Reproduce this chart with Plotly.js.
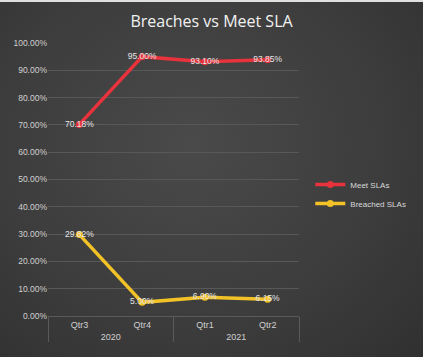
<!DOCTYPE html>
<html><head><meta charset="utf-8">
<script src="https://cdn.plot.ly/plotly-3.0.1.min.js"></script>
<style>
html,body{margin:0;padding:0;}
#wrap{width:423px;height:357px;background:radial-gradient(ellipse at 45% 40%, #4a4a4a 0%, #3c3c3c 60%, #303030 100%);box-sizing:border-box;border-top:2px solid #e0e0e0;}
#chart{width:423px;height:355px;}
</style></head>
<body><div id="wrap"><div id="chart"></div></div>
<script>
const years = ["2020","2020","2021","2021"];
const quarters = ["Qtr3","Qtr4","Qtr1","Qtr2"];
const meetSLA = [70.18, 95.00, 93.10, 93.85];
const breachedSLA = [29.82, 5.00, 6.90, 6.15];

const fmt = v => v.toFixed(2) + "%";
const traces = [
  {name:"Meet SLAs", x:[years,quarters], y:meetSLA, type:"scatter", mode:"lines+markers+text",
   line:{color:"#e8323c", width:3.5}, marker:{color:"#e8323c", size:7},
   text:meetSLA.map(fmt), textposition:"middle center",
   textfont:{family:"Liberation Sans, Arial", size:8.5, color:"#e6e6e6"}, cliponaxis:false},
  {name:"Breached SLAs", x:[years,quarters], y:breachedSLA, type:"scatter", mode:"lines+markers+text",
   line:{color:"#f2c227", width:3.5}, marker:{color:"#f2c227", size:7},
   text:breachedSLA.map(fmt), textposition:"middle center",
   textfont:{family:"Liberation Sans, Arial", size:8.5, color:"#e6e6e6"}, cliponaxis:false}
];
const layout = {
  width:423, height:355,
  paper_bgcolor:"rgba(0,0,0,0)", plot_bgcolor:"rgba(0,0,0,0)",
  margin:{l:48, r:103, t:41, b:41},
  title:{text:"Breaches vs Meet SLA", x:0.5, xanchor:"center", y:0.945, yanchor:"middle",
         font:{family:"Open Sans, Liberation Sans", size:16, color:"#f2f2f2"}},
  xaxis:{type:"multicategory", range:[-0.5,3.5], showgrid:false, zeroline:false,
         showdividers:true, dividercolor:"#5a5a5a", dividerwidth:1,
         showline:true, linecolor:"#5a5a5a", mirror:false,
         tickfont:{family:"Liberation Sans, Arial", size:9, color:"#d0d0d0"}},
  yaxis:{range:[0,100], dtick:10, tickformat:".2f", ticksuffix:"%",
         gridcolor:"#585858", gridwidth:1, zeroline:false, showline:false,
         tickfont:{family:"Liberation Sans, Arial", size:8.5, color:"#d0d0d0"}},
  legend:{x:1.045, y:0.447, xanchor:"left", yanchor:"middle", bgcolor:"rgba(0,0,0,0)",
          font:{family:"Liberation Sans, Arial", size:8, color:"#d9d9d9"}, tracegroupgap:6, itemwidth:30},
  showlegend:true
};
Plotly.newPlot("chart", traces, layout, {displayModeBar:false, staticPlot:true});
</script></body></html>
